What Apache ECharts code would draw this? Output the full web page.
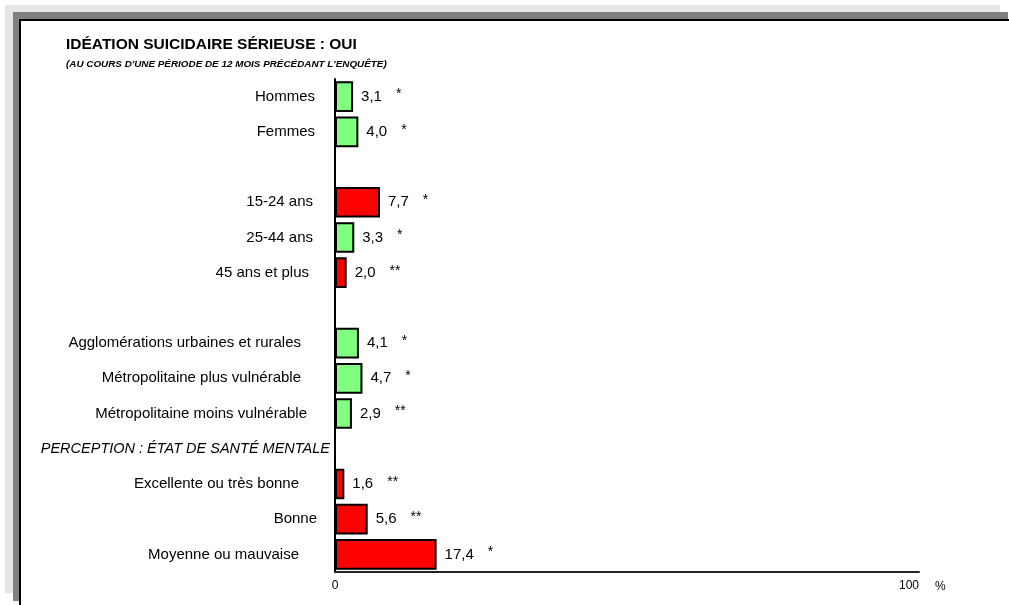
<!DOCTYPE html>
<html>
<head>
<meta charset="utf-8">
<script src="https://cdn.jsdelivr.net/npm/echarts@6/dist/echarts.min.js"></script>
<style>
  html, body { margin: 0; padding: 0; background: #fff; }
  #chart { width: 1009px; height: 605px; }
</style>
</head>
<body>
<div id="chart"></div>
<script>
// catégories (lignes vides = espacement entre les groupes)
const categories = [
    'Hommes', 'Femmes', ' ',
    '15-24 ans', '25-44 ans', '45 ans et plus', '  ',
    'Agglomérations urbaines et rurales', 'Métropolitaine plus vulnérable', 'Métropolitaine moins vulnérable',
    'PERCEPTION : ÉTAT DE SANTÉ MENTALE',
    'Excellente ou très bonne', 'Bonne', 'Moyenne ou mauvaise'
];
const values = [3.1, 4.0, null, 7.7, 3.3, 2.0, null, 4.1, 4.7, 2.9, null, 1.6, 5.6, 17.4];
// coefficient de variation : * ou **
const marks = ['*', '*', '', '*', '*', '**', '', '*', '*', '**', '', '**', '**', '*'];
// 1 = différence significative (barre rouge)
const signif = [0, 0, 0, 1, 0, 1, 0, 0, 0, 0, 0, 1, 1, 1];
const sectionHeader = 'PERCEPTION : ÉTAT DE SANTÉ MENTALE';
const xTicks = [0, 100];

const FONT = '"Liberation Sans", Arial, sans-serif';

function initChart() {
    const chart = echarts.init(document.getElementById('chart'));

    // décalage à droite des libellés (comme dans l'original, non alignés)
    const labelPad = [18, 18, 0, 20, 20, 24, 0, 32, 32, 26, 3, 34, 16, 34];

    const barData = values.map((v, i) => ({
        value: v,
        itemStyle: { color: signif[i] ? '#ff0000' : '#80ff80' },
        mark: marks[i]
    }));

    const rich = {};
    labelPad.forEach((p, i) => {
        const isHeader = categories[i] === sectionHeader;
        rich['n' + i] = {
            fontSize: isHeader ? 14.5 : 15, color: '#000', padding: [0, p, 0, 0],
            fontStyle: isHeader ? 'italic' : 'normal'
        };
    });

    const option = {
        backgroundColor: '#fff',
        animation: false,
        textStyle: { fontFamily: FONT },
        graphic: {
            elements: [
                { type: 'rect', z: -30, shape: { x: 5, y: 5, width: 995, height: 588 }, style: { fill: '#e6e6e6' } },
                { type: 'rect', z: -20, shape: { x: 13, y: 12, width: 995, height: 589 }, style: { fill: '#808080' } },
                { type: 'rect', z: -10, shape: { x: 20, y: 20, width: 1010, height: 610 }, style: { fill: '#fff', stroke: '#000', lineWidth: 2 } },
                { type: 'text', left: 66, top: 37, style: { text: 'IDÉATION SUICIDAIRE SÉRIEUSE : OUI', font: 'bold 15.5px ' + FONT, fill: '#000' } },
                { type: 'text', left: 66, top: 59, style: { text: "(AU COURS D'UNE PÉRIODE DE 12 MOIS PRÉCÉDANT L'ENQUÊTE)", font: 'italic bold 9.9px ' + FONT, fill: '#000' } }
            ]
        },
        grid: { left: 335, right: 90, top: 79, bottom: 33 },
        xAxis: {
            type: 'value',
            min: 0,
            max: 100,
            interval: 100,
            splitLine: { show: false },
            axisTick: { show: false },
            axisLine: { show: true, lineStyle: { color: '#222', width: 2 } },
            axisLabel: {
                color: '#000', fontSize: 12, margin: 8,
                alignMaxLabel: 'right',
                formatter: v => xTicks.includes(v) ? String(v) : ''
            },
            name: '%',
            nameLocation: 'end',
            nameGap: 16,
            nameTextStyle: { color: '#000', fontSize: 12, verticalAlign: 'top', padding: [9, 0, 0, 0] }
        },
        yAxis: {
            type: 'category',
            inverse: true,
            data: categories,
            axisTick: { show: false },
            axisLine: { show: true, lineStyle: { color: '#000', width: 2 } },
            axisLabel: {
                margin: 2,
                color: '#000',
                fontSize: 15,
                formatter: (v, i) => '{n' + i + '|' + v + '}',
                rich: rich
            }
        },
        series: [{
            type: 'bar',
            data: barData,
            barCategoryGap: '13%',
            itemStyle: { borderColor: '#000', borderWidth: 2 },
            label: {
                show: true,
                position: 'right',
                distance: 8,
                formatter: p => p.value == null ? '' :
                    '{v|' + p.value.toFixed(1).replace('.', ',') + '}{s|' + p.data.mark + '}',
                rich: {
                    v: { fontSize: 15, color: '#000' },
                    s: { fontSize: 14, color: '#000', padding: [-4, 0, 0, 14] }
                }
            }
        }]
    };
    chart.setOption(option);
}

document.addEventListener('DOMContentLoaded', initChart);
</script>
</body>
</html>
